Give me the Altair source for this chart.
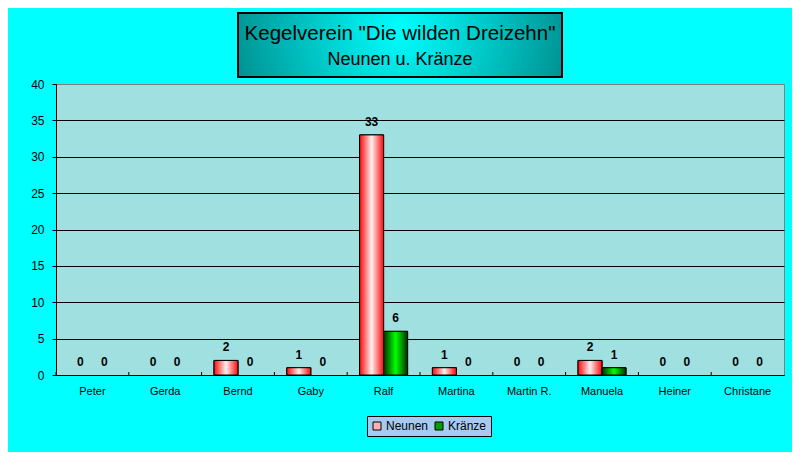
import altair as alt
import pandas as pd

names = ["Peter", "Gerda", "Bernd", "Gaby", "Ralf", "Martina", "Martin R.", "Manuela", "Heiner", "Christane"]
series = ["Neunen", "Kränze"]
neunen = [0, 0, 2, 1, 33, 1, 0, 2, 0, 0]
kraenze = [0, 0, 0, 0, 6, 0, 0, 1, 0, 0]
y_ticks = [0, 5, 10, 15, 20, 25, 30, 35, 40]
title1 = 'Kegelverein "Die wilden Dreizehn"'
title2 = "Neunen u. Kränze"

rows = []
for n, a, b in zip(names, neunen, kraenze):
    rows.append({"name": n, "series": "Neunen", "value": a})
    rows.append({"name": n, "series": "Kränze", "value": b})
df = pd.DataFrame(rows)

FONT = "Liberation Sans"

x_enc = alt.X("name:N", sort=names,
              scale=alt.Scale(paddingInner=0, paddingOuter=0),
              axis=alt.Axis(title=None, ticks=False, labelAngle=0, labelFontSize=11,
                            labelPadding=10, labelColor="black", domainColor="black",
                            labelFont=FONT, grid=False))
xo_enc = alt.XOffset("series:N", sort=series,
                     scale=alt.Scale(domain=series, paddingInner=0, paddingOuter=0.517))
y_enc = alt.Y("value:Q",
              scale=alt.Scale(domain=[0, 40], nice=False),
              axis=alt.Axis(title=None, values=y_ticks, tickSize=4, tickColor="black",
                            labelFontSize=12, labelPadding=8, labelColor="black",
                            labelFont=FONT, domainColor="black",
                            gridColor={"condition": {"test": "datum.value >= 40", "value": "#808080"},
                                       "value": "black"}))

base = alt.Chart(df)
nonzero = "datum.value > 0"

legend_bars = base.transform_filter(nonzero).mark_bar(stroke="black", strokeWidth=1).encode(
    x=x_enc, xOffset=xo_enc, y=y_enc,
    color=alt.Color("series:N", sort=series,
                    scale=alt.Scale(domain=series, range=["#FFB0B0", "#00A000"]),
                    legend=alt.Legend(title=None, orient="none", legendX=311, legendY=332,
                                      direction="horizontal", fillColor="#A6CAF0",
                                      strokeColor="black", padding=4, symbolType="square",
                                      symbolSize=64, symbolStrokeColor="black",
                                      symbolStrokeWidth=1, labelFontSize=12, labelFont=FONT,
                                      labelColor="black", labelOffset=3, columnPadding=4)),
)

red_grad = alt.Gradient(gradient="linear", x1=0, y1=0, x2=1, y2=0,
                        stops=[alt.GradientStop(color="#FF0808", offset=0),
                               alt.GradientStop(color="#FFF0F0", offset=0.5),
                               alt.GradientStop(color="#FF0808", offset=1)])
green_grad = alt.Gradient(gradient="linear", x1=0, y1=0, x2=1, y2=0,
                          stops=[alt.GradientStop(color="#003000", offset=0),
                                 alt.GradientStop(color="#00FF00", offset=0.5),
                                 alt.GradientStop(color="#003000", offset=1)])

red_bars = base.transform_filter("datum.series == 'Neunen' && datum.value > 0").mark_bar(
    color=red_grad, stroke="black", strokeWidth=1).encode(x=x_enc, xOffset=xo_enc, y=y_enc)
green_bars = base.transform_filter("datum.series == 'Kränze' && datum.value > 0").mark_bar(
    color=green_grad, stroke="black", strokeWidth=1).encode(x=x_enc, xOffset=xo_enc, y=y_enc)

labels = base.mark_text(fontWeight="bold", fontSize=12, font=FONT, color="black",
                        baseline="alphabetic", dy=-9).encode(
    x=x_enc, xOffset=xo_enc, y=y_enc, text=alt.Text("value:Q"))

ticks = alt.Chart(pd.DataFrame({"name": names})).mark_rule(color="black").encode(
    x=alt.X("name:N", sort=names, bandPosition=0),
    y=alt.value(288), y2=alt.value(291))

one = pd.DataFrame({"k": [0]})
title_grad = alt.Gradient(gradient="radial", x1=0.5, y1=0.45, r1=0, x2=0.5, y2=0.45, r2=0.65,
                          stops=[alt.GradientStop(color="#00FFFF", offset=0),
                                 alt.GradientStop(color="#007878", offset=1)])
title_box = alt.Chart(one).mark_rect(color=title_grad, stroke="black", strokeWidth=2).encode(
    x=alt.value(182), x2=alt.value(506), y=alt.value(-71), y2=alt.value(-7))
t1 = alt.Chart(one).mark_text(fontSize=20.5, font=FONT, color="black").encode(
    x=alt.value(344), y=alt.value(-50), text=alt.value(title1))
t2 = alt.Chart(one).mark_text(fontSize=18, font=FONT, color="black").encode(
    x=alt.value(344), y=alt.value(-24), text=alt.value(title2))

chart = alt.layer(legend_bars, red_bars, green_bars, labels, ticks, title_box, t1, t2).properties(
    width=728, height=291,
    padding={"left": 48, "top": 76, "right": 8, "bottom": 77},
    autosize=alt.AutoSizeParams(type="none"),
    background="#00FFFF",
).configure_view(fill="#A0E0E0", stroke="#808080", strokeWidth=1)

chart.save("out.html", embed_options={"renderer": "svg", "actions": False})
